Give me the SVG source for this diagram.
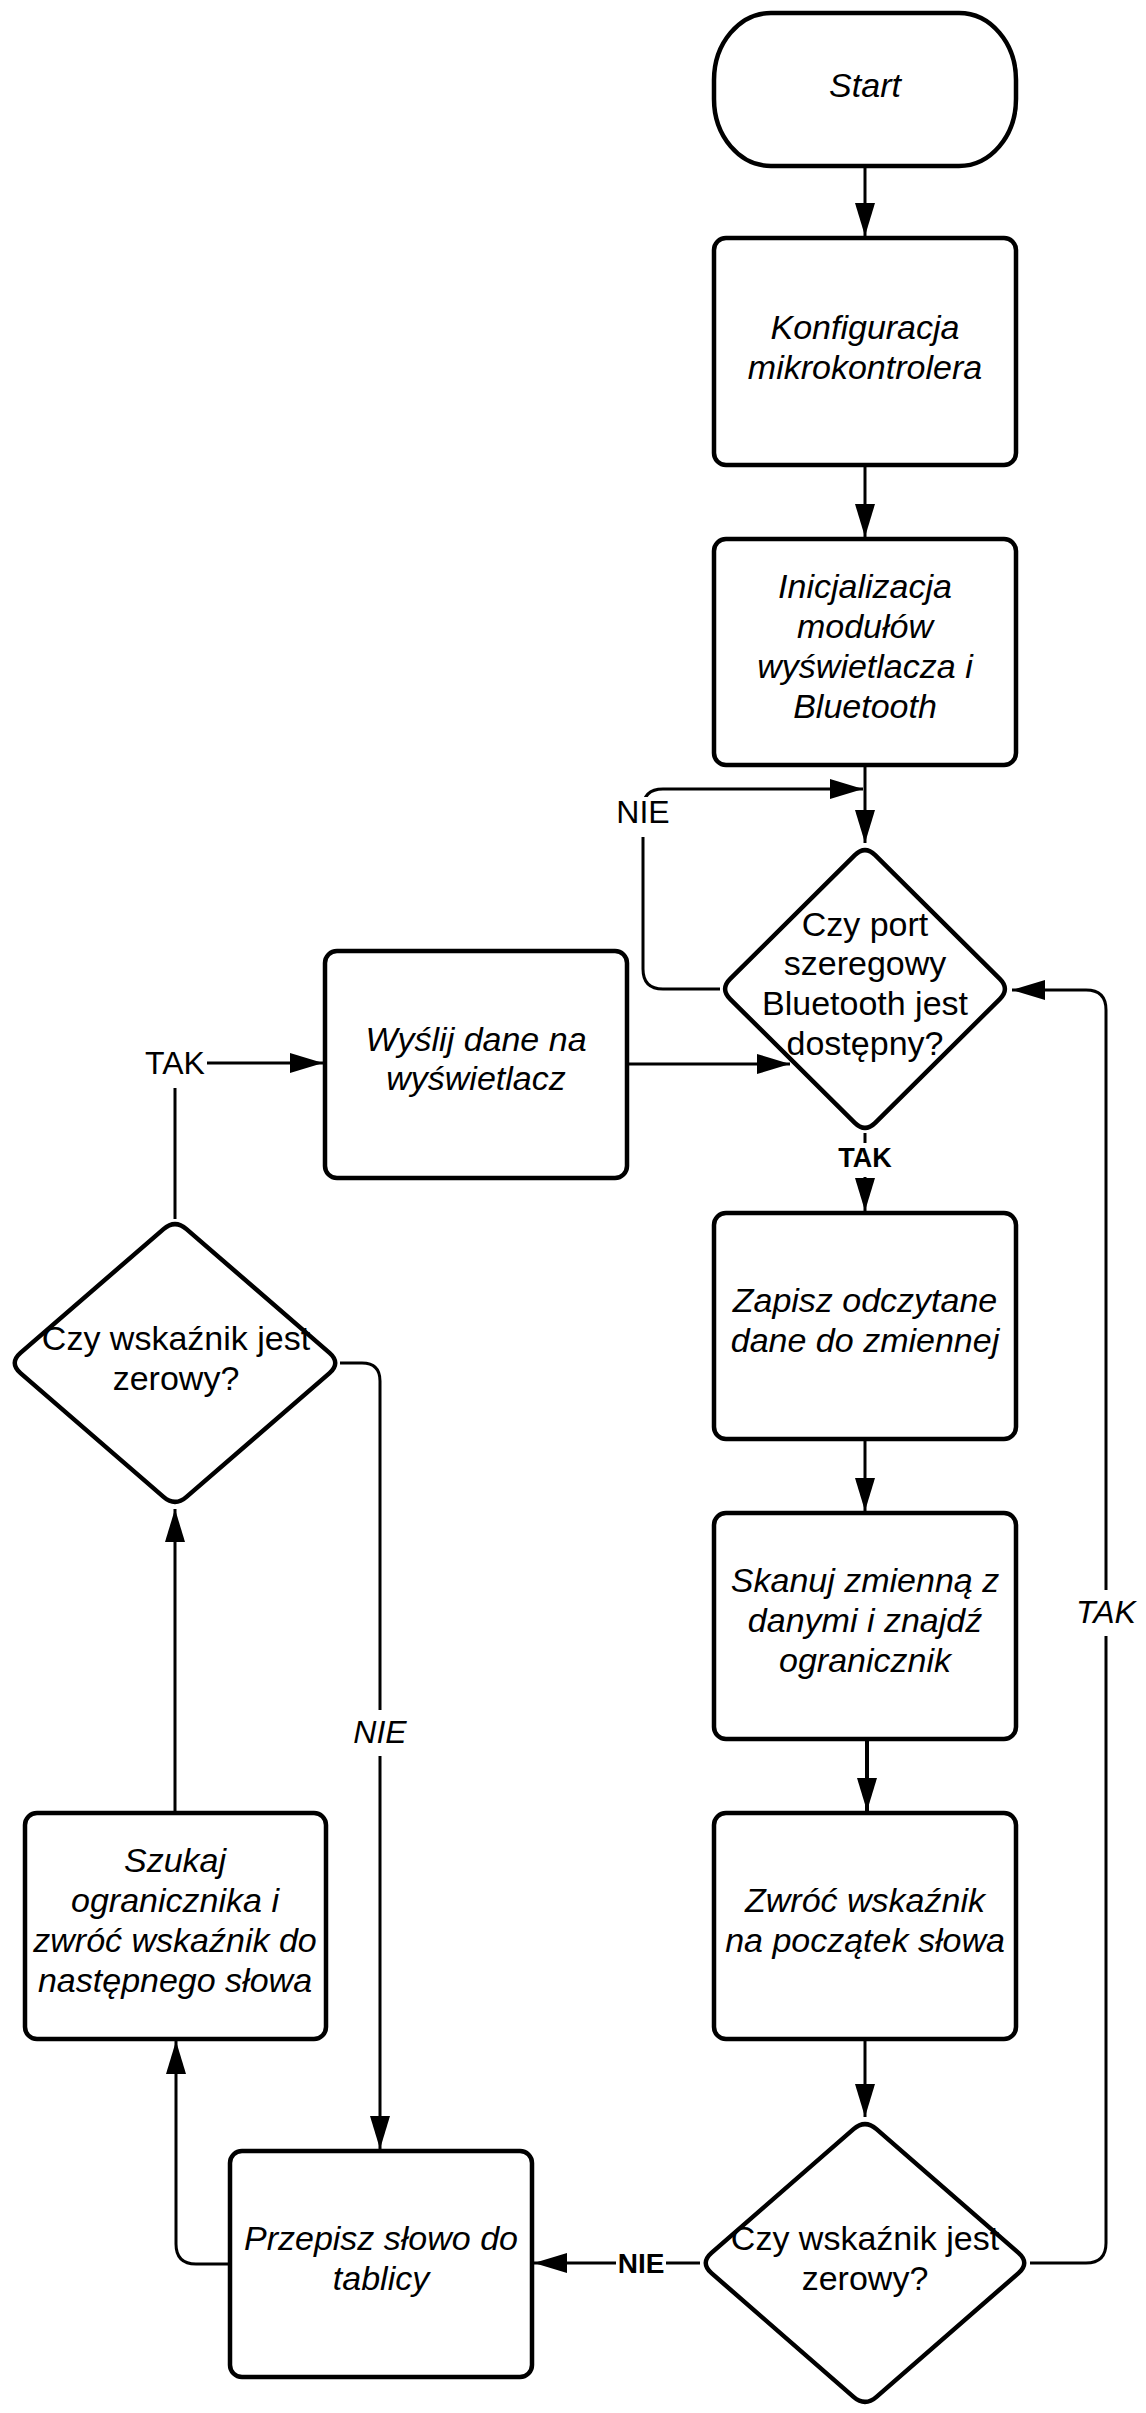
<svg xmlns="http://www.w3.org/2000/svg" width="1146" height="2413" viewBox="0 0 1146 2413">
<defs>
<marker id="arr" markerUnits="userSpaceOnUse" markerWidth="34" markerHeight="22" refX="33" refY="10" orient="auto">
<path d="M0,0 L33,10 L0,20 Z" fill="#000"/>
</marker>
<style>
.shape{fill:#fff;stroke:#000;stroke-width:4.5;stroke-linejoin:round}
.conn{fill:none;stroke:#000;stroke-width:3}
.t{font-family:"Liberation Sans",Arial,sans-serif;font-size:34px;fill:#000;text-anchor:middle}
.i{font-style:italic}
.lbl{font-family:"Liberation Sans",Arial,sans-serif;font-size:32px;fill:#000;text-anchor:middle}
.b{font-weight:bold;font-size:27px}
.bg{fill:#fff;stroke:none}
</style>
</defs>
<rect width="1146" height="2413" fill="#fff"/>

<g id="connectors">
<path class="conn" d="M865 166 V236" marker-end="url(#arr)"/>
<path class="conn" d="M865 465 V537" marker-end="url(#arr)"/>
<path class="conn" d="M865 765 V843" marker-end="url(#arr)"/>
<path class="conn" d="M720 989 H663 Q643 989 643 969 V809 Q643 789 663 789 H863" marker-end="url(#arr)"/>
<path class="conn" d="M865 1133 V1211" marker-end="url(#arr)"/>
<path class="conn" d="M865 1439 V1511" marker-end="url(#arr)"/>
<path class="conn" d="M867 1739 V1811" style="stroke-width:4" marker-end="url(#arr)"/>
<path class="conn" d="M865 2039 V2117" marker-end="url(#arr)"/>
<path class="conn" d="M1030 2263 H1086 Q1106 2263 1106 2243 V1010 Q1106 990 1086 990 H1012" marker-end="url(#arr)"/>
<path class="conn" d="M700 2263 H534" marker-end="url(#arr)"/>
<path class="conn" d="M230 2264 H196 Q176 2264 176 2244 V2041" marker-end="url(#arr)"/>
<path class="conn" d="M175 1814 V1509" marker-end="url(#arr)"/>
<path class="conn" d="M340 1363 H362 Q380 1363 380 1381 V2149" marker-end="url(#arr)"/>
<path class="conn" d="M175 1219 V1063 H323" marker-end="url(#arr)"/>
<path class="conn" d="M627 1064 H790" marker-end="url(#arr)"/>

<rect class="bg" x="614" y="797" width="58" height="40"/>
<text class="lbl" x="643" y="823">NIE</text>
<rect class="bg" x="838" y="1143" width="54" height="34"/>
<text class="lbl b" x="865" y="1167">TAK</text>
<rect class="bg" x="143" y="1040" width="64" height="48"/>
<text class="lbl" x="175" y="1074">TAK</text>
<rect class="bg" x="350" y="1710" width="60" height="46"/>
<text class="lbl i" x="380" y="1743">NIE</text>
<rect class="bg" x="1074" y="1590" width="64" height="46"/>
<text class="lbl i" x="1106" y="1623">TAK</text>
<rect class="bg" x="616" y="2248" width="50" height="30"/>
<text class="lbl b" x="641" y="2273" style="font-size:28px">NIE</text>
</g>

<g id="start">
<rect class="shape" x="714" y="13" width="302" height="153" rx="57" ry="67"/>
<text class="t i" x="865" y="97">Start</text>
</g>

<g id="konfiguracja">
<rect class="shape" x="714" y="238" width="302" height="227" rx="12"/>
<text class="t i" x="865" y="339">Konfiguracja</text>
<text class="t i" x="865" y="379">mikrokontrolera</text>
</g>

<g id="inicjalizacja">
<rect class="shape" x="714" y="539" width="302" height="226" rx="12"/>
<text class="t i" x="865" y="598">Inicjalizacja</text>
<text class="t i" x="865" y="638">modułów</text>
<text class="t i" x="865" y="678">wyświetlacza i</text>
<text class="t i" x="865" y="718">Bluetooth</text>
</g>

<g id="czy-port">
<path class="shape" d="M875.2 855.1 L999.8 978.9 Q1010 989 999.8 999.1 L875.2 1122.9 Q865 1133 854.8 1122.9 L730.2 999.1 Q720 989 730.2 978.9 L854.8 855.1 Q865 845 875.2 855.1 Z"/>
<text class="t" x="865" y="936">Czy port</text>
<text class="t" x="865" y="975">szeregowy</text>
<text class="t" x="865" y="1015">Bluetooth jest</text>
<text class="t" x="865" y="1055">dostępny?</text>
</g>

<g id="wyslij">
<rect class="shape" x="325" y="951" width="302" height="227" rx="12"/>
<text class="t i" x="476" y="1051">Wyślij dane na</text>
<text class="t i" x="476" y="1090">wyświetlacz</text>
</g>

<g id="zapisz">
<rect class="shape" x="714" y="1213" width="302" height="226" rx="12"/>
<text class="t i" x="865" y="1312">Zapisz odczytane</text>
<text class="t i" x="865" y="1352">dane do zmiennej</text>
</g>

<g id="skanuj">
<rect class="shape" x="714" y="1513" width="302" height="226" rx="12"/>
<text class="t i" x="865" y="1592">Skanuj zmienną z</text>
<text class="t i" x="865" y="1632">danymi i znajdź</text>
<text class="t i" x="865" y="1672">ogranicznik</text>
</g>

<g id="zwroc">
<rect class="shape" x="714" y="1813" width="302" height="226" rx="12"/>
<text class="t i" x="865" y="1912">Zwróć wskaźnik</text>
<text class="t i" x="865" y="1952">na początek słowa</text>
</g>

<g id="czy-wskaznik-prawy">
<path class="shape" d="M876.5 2129.1 L1018.5 2252.9 Q1030 2263 1018.5 2273.1 L876.5 2396.9 Q865 2407 853.5 2396.9 L711.5 2273.1 Q700 2263 711.5 2252.9 L853.5 2129.1 Q865 2119 876.5 2129.1 Z"/>
<text class="t" x="865" y="2250">Czy wskaźnik jest</text>
<text class="t" x="865" y="2290">zerowy?</text>
</g>

<g id="czy-wskaznik-lewy">
<path class="shape" d="M186.5 1229.1 L329.5 1352.9 Q341 1363 329.5 1373.1 L186.5 1496.9 Q175 1507 163.5 1496.9 L20.5 1373.1 Q9 1363 20.5 1352.9 L163.5 1229.1 Q175 1219 186.5 1229.1 Z"/>
<text class="t" x="176" y="1350">Czy wskaźnik jest</text>
<text class="t" x="176" y="1390">zerowy?</text>
</g>

<g id="szukaj">
<rect class="shape" x="25" y="1813" width="301" height="226" rx="12"/>
<text class="t i" x="175" y="1872">Szukaj</text>
<text class="t i" x="175" y="1912">ogranicznika i</text>
<text class="t i" x="175" y="1952">zwróć wskaźnik do</text>
<text class="t i" x="175" y="1992">następnego słowa</text>
</g>

<g id="przepisz">
<rect class="shape" x="230" y="2151" width="302" height="226" rx="12"/>
<text class="t i" x="381" y="2250">Przepisz słowo do</text>
<text class="t i" x="381" y="2290">tablicy</text>
</g>
</svg>
